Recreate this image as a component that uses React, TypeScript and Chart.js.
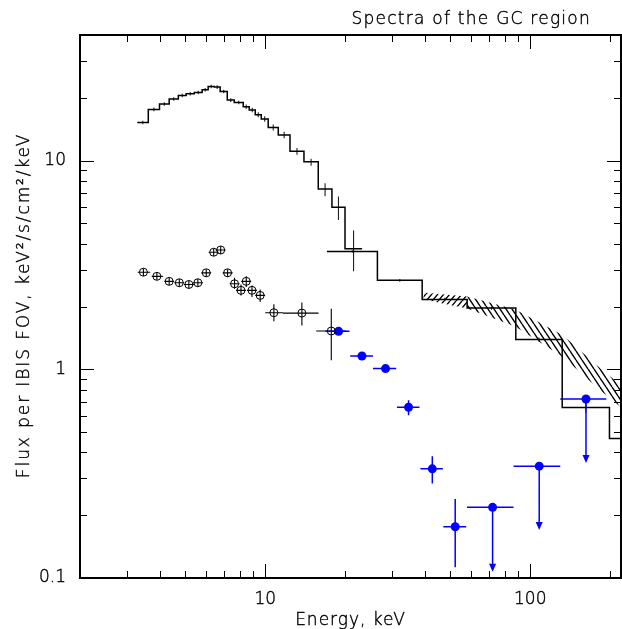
import React, { useEffect, useRef } from 'react';
import { Chart, registerables } from 'chart.js';

Chart.register(...registerables);

const FONT = '"DejaVu Sans", sans-serif';
const WEIGHT = 200;

// Fine-binned total spectrum (histogram), bin edges in keV
const fineEdges = [3.29, 3.62, 3.99, 4.34, 4.70, 5.03, 5.40, 5.78, 6.09, 6.42, 6.76, 7.19, 7.64, 8.26, 8.70, 9.17, 9.66, 10.26, 11.2, 12.4, 14.0, 15.85, 17.85, 20.0, 23.2];
const fineFlux = [15.25, 17.6, 18.68, 19.73, 20.53, 20.92, 21.22, 21.86, 22.67, 22.52, 21.46, 19.51, 19.01, 18.13, 17.48, 16.6, 15.83, 14.43, 13.27, 11.08, 9.89, 7.32, 5.98, 3.78];
const fineHi = [15.55, 17.95, 19.05, 20.12, 20.94, 21.34, 21.64, 22.3, 23.12, 22.97, 21.89, 19.9, 19.39, 18.58, 17.92, 17.05, 16.3, 14.9, 13.75, 11.5, 10.22, 7.79, 6.73, 4.62];
const fineLo = [14.95, 17.25, 18.31, 19.34, 20.12, 20.5, 20.8, 21.42, 22.22, 22.07, 21.03, 19.12, 18.63, 17.68, 17.04, 16.15, 15.36, 13.96, 12.8, 10.66, 9.46, 6.76, 5.19, 2.95];

// Coarse-binned total spectrum (histogram)
const coarseEdges = [17.1, 26.5, 39.1, 57.8, 88.2, 132, 199, 300];
const coarseFlux = [3.67, 2.67, 2.16, 1.965, 1.39, 0.656, 0.466];
const coarseHi = [3.72, 2.71, 2.2, 2.0, 1.42, 0.69, 0.5];
const coarseLo = [3.62, 2.63, 2.12, 1.93, 1.36, 0.62, 0.43];

// Open crossed circles
const ptE = [3.47, 3.90, 4.34, 4.74, 5.15, 5.57, 5.99, 6.39, 6.79, 7.21, 7.66, 8.10, 8.48, 8.91, 9.57, 10.78, 13.75, 17.75];
const ptF = [2.92, 2.79, 2.64, 2.60, 2.55, 2.60, 2.90, 3.64, 3.73, 2.90, 2.57, 2.39, 2.64, 2.39, 2.26, 1.867, 1.86, 1.526];
const ptXlo = [3.30, 3.73, 4.16, 4.54, 4.93, 5.34, 5.74, 6.12, 6.50, 6.91, 7.34, 7.76, 8.12, 8.53, 9.17, 10.0, 11.66, 15.57];
const ptXhi = [3.68, 4.11, 4.53, 4.95, 5.38, 5.82, 6.25, 6.67, 7.09, 7.53, 8.00, 8.46, 8.85, 9.30, 9.99, 11.66, 15.89, 20.2];
const ptYlo = [2.80, 2.68, 2.53, 2.49, 2.44, 2.49, 2.78, 3.49, 3.57, 2.78, 2.43, 2.26, 2.48, 2.22, 2.10, 1.70, 1.62, 1.104];
const ptYhi = [3.04, 2.91, 2.75, 2.71, 2.66, 2.71, 3.02, 3.79, 3.89, 3.02, 2.75, 2.55, 2.79, 2.52, 2.41, 2.05, 2.09, 1.95];

// Blue filled points
const blueE = [18.91, 23.17, 28.44, 34.74, 42.7, 52.1];
const blueF = [1.52, 1.158, 1.008, 0.658, 0.3334, 0.176];
const blueXlo = [16.84, 20.93, 25.5, 31.4, 38.5, 47.0];
const blueXhi = [20.8, 25.5, 31.2, 38.2, 46.8, 57.3];
const blueYlo = [1.48, 1.13, 0.985, 0.603, 0.2838, 0.1125];
const blueYhi = [1.56, 1.19, 1.03, 0.711, 0.3835, 0.2388];

// Blue upper limits
const ulE = [72.1, 108.1, 162.3];
const ulF = [0.218, 0.3435, 0.721];
const ulXlo = [57.7, 86.5, 129.8];
const ulXhi = [86.5, 129.8, 193.6];
const ulTip = [0.107, 0.170, 0.356];

// Hatched model band
const bandLeftE = [39.5, 57.8];
const bandLeftHi = [2.335, 2.235];
const bandLeftLo = [2.163, 1.958];
const bandRightE = [57.8, 87.8, 133.2, 183.7, 220];
const bandRightHi = [2.235, 1.936, 1.454, 1.011, 0.838];
const bandRightLo = [1.958, 1.606, 1.141, 0.793, 0.658];

// Axis ticks
const xTickLabels = [10, 100];
const yTickLabels = [0.1, 1, 10];
const xMajor = [10, 100];
const xMinor = [3, 4, 5, 6, 7, 8, 9, 20, 30, 40, 50, 60, 70, 80, 90, 200];
const yMajor = [1, 10];
const yMinor = [0.2, 0.3, 0.4, 0.5, 0.6, 0.7, 0.8, 0.9, 2, 3, 4, 5, 6, 7, 8, 9, 20, 30];

const histPoints = (edges: number[], vals: number[]) =>
  edges.map((e, i) => ({ x: e, y: vals[Math.min(i, vals.length - 1)] }));
const pts = (xs: number[], ys: number[]) => xs.map((x, i) => ({ x, y: ys[i] }));

function makeHatch(ctx: CanvasRenderingContext2D, w: number, h: number, forward: boolean) {
  const c = document.createElement('canvas');
  c.width = w;
  c.height = h;
  const g = c.getContext('2d')!;
  g.strokeStyle = '#000';
  g.lineWidth = 1.4;
  g.beginPath();
  for (const k of [-1, 0, 1]) {
    if (forward) {
      g.moveTo(k * w, h);
      g.lineTo(k * w + w, 0);
    } else {
      g.moveTo(k * w, 0);
      g.lineTo(k * w + w, h);
    }
  }
  g.stroke();
  return ctx.createPattern(c, 'repeat');
}

const errorPlugin = {
  id: 'errbars',
  beforeDatasetsDraw(chart: any) {
    const { ctx, chartArea: a } = chart;
    const xs = chart.scales.x;
    const ys = chart.scales.y;
    const X = (v: number) => xs.getPixelForValue(v);
    const Y = (v: number) => ys.getPixelForValue(v);
    const seg = (x1: number, y1: number, x2: number, y2: number) => {
      ctx.moveTo(x1, y1);
      ctx.lineTo(x2, y2);
    };
    ctx.save();
    ctx.beginPath();
    ctx.rect(a.left, a.top, a.right - a.left, a.bottom - a.top);
    ctx.clip();

    // histogram error ticks
    ctx.strokeStyle = '#222';
    ctx.lineWidth = 1.1;
    ctx.beginPath();
    fineFlux.forEach((_, i) => {
      const xc = X(Math.sqrt(fineEdges[i] * fineEdges[i + 1]));
      seg(xc, Y(fineHi[i]), xc, Y(fineLo[i]));
    });
    coarseFlux.forEach((_, i) => {
      const xc = X(Math.sqrt(coarseEdges[i] * coarseEdges[i + 1]));
      seg(xc, Y(coarseHi[i]), xc, Y(coarseLo[i]));
    });
    ctx.stroke();

    // crossed circles error bars
    ctx.strokeStyle = '#000';
    ctx.lineWidth = 1.1;
    ctx.beginPath();
    ptE.forEach((e, i) => {
      seg(X(ptXlo[i]), Y(ptF[i]), X(ptXhi[i]), Y(ptF[i]));
      seg(X(e), Y(ptYhi[i]), X(e), Y(ptYlo[i]));
    });
    ctx.stroke();

    // blue error bars
    ctx.strokeStyle = '#0000ff';
    ctx.lineWidth = 1.5;
    ctx.beginPath();
    blueE.forEach((e, i) => {
      seg(X(blueXlo[i]), Y(blueF[i]), X(blueXhi[i]), Y(blueF[i]));
      seg(X(e), Y(blueYhi[i]), X(e), Y(blueYlo[i]));
    });
    ulE.forEach((e, i) => {
      seg(X(ulXlo[i]), Y(ulF[i]), X(ulXhi[i]), Y(ulF[i]));
      seg(X(e), Y(ulF[i]), X(e), Y(ulTip[i]) - 6);
    });
    ctx.stroke();
    ctx.fillStyle = '#0000ff';
    ulE.forEach((e, i) => {
      const px = X(e);
      const py = Y(ulTip[i]);
      ctx.beginPath();
      ctx.moveTo(px, py);
      ctx.lineTo(px - 3.5, py - 8);
      ctx.lineTo(px + 3.5, py - 8);
      ctx.closePath();
      ctx.fill();
    });
    ctx.restore();
  },
};

const framePlugin = {
  id: 'frame',
  afterDraw(chart: any) {
    const { ctx, chartArea: a } = chart;
    const xs = chart.scales.x;
    const ys = chart.scales.y;
    ctx.save();
    ctx.strokeStyle = '#000';
    ctx.lineWidth = 2;
    ctx.strokeRect(a.left, a.top, a.right - a.left, a.bottom - a.top);
    ctx.lineWidth = 1;
    ctx.beginPath();
    const xt = (v: number, len: number) => {
      const p = Math.round(xs.getPixelForValue(v)) + 0.5;
      ctx.moveTo(p, a.bottom);
      ctx.lineTo(p, a.bottom - len);
      ctx.moveTo(p, a.top);
      ctx.lineTo(p, a.top + len);
    };
    const yt = (v: number, len: number) => {
      const p = Math.round(ys.getPixelForValue(v)) + 0.5;
      ctx.moveTo(a.left, p);
      ctx.lineTo(a.left + len, p);
      ctx.moveTo(a.right, p);
      ctx.lineTo(a.right - len, p);
    };
    xMajor.forEach((v) => xt(v, 14));
    xMinor.forEach((v) => xt(v, 7));
    yMajor.forEach((v) => yt(v, 14));
    yMinor.forEach((v) => yt(v, 7));
    ctx.stroke();

    // texts
    ctx.fillStyle = '#000';
    ctx.strokeStyle = '#000';
    ctx.lineWidth = 0.4;
    ctx.font = `${WEIGHT} 17px ${FONT}`;
    ctx.textBaseline = 'alphabetic';
    const txt = (s: string, x: number, y: number) => {
      ctx.strokeText(s, x, y);
      ctx.fillText(s, x, y);
    };
    (ctx as any).letterSpacing = '1.25px';
    ctx.textAlign = 'right';
    txt('Spectra of the GC region', 591, 24);
    (ctx as any).letterSpacing = '1px';
    ctx.textAlign = 'center';
    txt('Energy, keV', (a.left + a.right) / 2, 625);
    ctx.translate(29, (a.top + a.bottom) / 2 - 1);
    ctx.rotate(-Math.PI / 2);
    (ctx as any).letterSpacing = '1.9px';
    txt('Flux per IBIS FOV, keV\u00b2/s/cm\u00b2/keV', 0, 0);
    ctx.restore();
  },
};

export default function App() {
  const ref = useRef<HTMLCanvasElement>(null);

  useEffect(() => {
    const canvas = ref.current!;
    const ctx = canvas.getContext('2d')!;
    const hatchFwd = makeHatch(ctx, 6, 7, true);
    const hatchBack = makeHatch(ctx, 6, 9, false);
    const none = 'rgba(0,0,0,0)';

    const tickOpts = {
      autoSkip: false,
      maxRotation: 0,
      minRotation: 0,
      color: '#000',
      textStrokeColor: '#000',
      textStrokeWidth: 0.4,
      font: { family: FONT, size: 17, weight: WEIGHT },
      callback: (v: any) => String(v),
    };

    const chart = new Chart(canvas, {
      type: 'line',
      data: {
        datasets: [
          {
            data: histPoints(fineEdges, fineFlux),
            stepped: true,
            borderColor: '#000',
            borderWidth: 1.5,
            pointRadius: 0,
            fill: false,
          },
          {
            data: histPoints(coarseEdges, coarseFlux),
            stepped: true,
            borderColor: '#000',
            borderWidth: 1.5,
            pointRadius: 0,
            fill: false,
          },
          {
            data: pts(bandLeftE, bandLeftHi),
            borderColor: none,
            backgroundColor: hatchFwd as any,
            pointRadius: 0,
            fill: '+1',
          },
          {
            data: pts(bandLeftE, bandLeftLo),
            borderColor: none,
            pointRadius: 0,
            fill: false,
          },
          {
            data: pts(bandRightE, bandRightHi),
            borderColor: none,
            backgroundColor: hatchBack as any,
            pointRadius: 0,
            fill: '+1',
          },
          {
            data: pts(bandRightE, bandRightLo),
            borderColor: none,
            pointRadius: 0,
            fill: false,
          },
          {
            data: pts(ptE, ptF),
            showLine: false,
            pointStyle: 'circle',
            pointRadius: 4,
            pointBorderWidth: 1,
            pointBorderColor: '#000',
            pointBackgroundColor: none,
          },
          {
            data: pts(blueE, blueF),
            showLine: false,
            pointStyle: 'circle',
            pointRadius: 4.5,
            pointBorderWidth: 0,
            pointBorderColor: '#0000ff',
            pointBackgroundColor: '#0000ff',
          },
          {
            data: pts(ulE, ulF),
            showLine: false,
            pointStyle: 'circle',
            pointRadius: 4.5,
            pointBorderWidth: 0,
            pointBorderColor: '#0000ff',
            pointBackgroundColor: '#0000ff',
          },
        ],
      },
      options: {
        responsive: false,
        animation: false,
        devicePixelRatio: 1,
        layout: { autoPadding: false, padding: { top: 35, right: 1, left: 0, bottom: 0 } },
        plugins: {
          legend: { display: false },
          tooltip: { enabled: false },
          title: { display: false },
        },
        scales: {
          x: {
            type: 'logarithmic',
            min: 2,
            max: 220,
            grid: { display: false, drawTicks: false, tickLength: 0 },
            border: { display: false },
            ticks: { ...tickOpts, padding: 11 },
            afterBuildTicks: (s: any) => {
              s.ticks = xTickLabels.map((value) => ({ value }));
            },
            afterFit: (s: any) => {
              s.height = 51;
              s.paddingLeft = 0;
              s.paddingRight = 0;
            },
          },
          y: {
            type: 'logarithmic',
            min: 0.1,
            max: 40,
            grid: { display: false, drawTicks: false, tickLength: 0 },
            border: { display: false },
            ticks: { ...tickOpts, padding: 14 },
            afterBuildTicks: (s: any) => {
              s.ticks = yTickLabels.map((value) => ({ value }));
            },
            afterFit: (s: any) => {
              s.width = 80;
              s.paddingTop = 0;
              s.paddingBottom = 0;
            },
          },
        },
      } as any,
      plugins: [errorPlugin, framePlugin],
    });
    return () => chart.destroy();
  }, []);

  return (
    <div style={{ position: 'absolute', left: 0, top: 0, width: 622, height: 629, background: '#fff' }}>
      <canvas ref={ref} width={622} height={629} style={{ display: 'block', width: 622, height: 629 }} />
    </div>
  );
}
